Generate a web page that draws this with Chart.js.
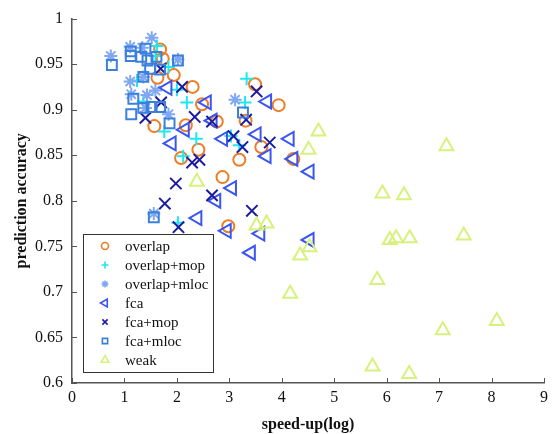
<!DOCTYPE html>
<html>
<head>
<meta charset="utf-8">
<script src="https://cdn.jsdelivr.net/npm/chart.js@4.4.0/dist/chart.umd.min.js"></script>
<style>
  html, body { margin: 0; padding: 0; background: #fff; }
  #wrap { width: 557px; height: 434px; position: relative; }
</style>
</head>
<body>
<div id="wrap"><canvas id="myChart" width="557" height="434"></canvas></div>
<script>
// series names (legend order)
const seriesNames = ["overlap", "overlap+mop", "overlap+mloc", "fca", "fca+mop", "fca+mloc", "weak"];

// x = speed-up(log), y = prediction accuracy
const overlapX = [1.68, 1.73, 1.63, 1.94, 2.30, 2.48, 1.57, 2.17, 2.76, 3.49, 3.94, 3.31, 2.41, 2.08, 3.19, 3.61, 2.87, 4.22, 2.98];
const overlapY = [0.966, 0.956, 0.935, 0.938, 0.925, 0.906, 0.882, 0.883, 0.887, 0.928, 0.905, 0.888, 0.856, 0.847, 0.845, 0.859, 0.826, 0.846, 0.772];

const overlapMopX = [1.62, 1.59, 1.84, 1.24, 2.00, 1.36, 2.19, 3.33, 3.30, 1.76, 2.37, 2.12, 3.03, 3.19, 2.02];
const overlapMopY = [0.970, 0.959, 0.947, 0.932, 0.922, 0.909, 0.908, 0.934, 0.908, 0.876, 0.868, 0.849, 0.871, 0.861, 0.776];

const overlapMlocX = [0.74, 1.11, 1.34, 1.52, 1.11, 1.13, 1.43, 1.59, 1.84, 3.11, 1.56, 2.02, 1.36, 1.40];
const overlapMlocY = [0.959, 0.969, 0.968, 0.979, 0.931, 0.917, 0.916, 0.921, 0.895, 0.911, 0.786, 0.955, 0.936, 0.902];

const fcaX = [1.82, 2.57, 2.15, 1.90, 2.68, 2.88, 3.52, 3.72, 4.15, 3.71, 4.22, 4.53, 3.05, 2.75, 2.39, 2.95, 3.59, 3.41, 4.53];
const fcaY = [0.924, 0.908, 0.878, 0.863, 0.888, 0.868, 0.873, 0.909, 0.868, 0.849, 0.846, 0.832, 0.814, 0.800, 0.781, 0.767, 0.764, 0.743, 0.757];

const fcaMopX = [1.69, 2.10, 3.52, 1.70, 1.40, 2.34, 2.67, 3.32, 3.08, 3.25, 3.77, 2.43, 2.29, 1.98, 2.67, 1.77, 3.43, 2.03];
const fcaMopY = [0.945, 0.925, 0.920, 0.908, 0.891, 0.892, 0.887, 0.889, 0.871, 0.859, 0.864, 0.845, 0.842, 0.819, 0.806, 0.797, 0.789, 0.771];

const fcaMlocX = [0.76, 1.12, 1.12, 1.40, 1.32, 1.44, 1.61, 1.49, 1.68, 2.02, 1.36, 1.17, 1.13, 1.36, 1.52, 1.68, 1.86, 3.26, 1.56];
const fcaMlocY = [0.949, 0.964, 0.959, 0.967, 0.958, 0.954, 0.958, 0.945, 0.944, 0.954, 0.936, 0.912, 0.895, 0.902, 0.903, 0.903, 0.885, 0.897, 0.782];

const weakX = [2.38, 3.52, 3.71, 4.70, 4.51, 7.14, 5.92, 6.33, 6.06, 6.18, 6.44, 7.47, 4.53, 4.35, 5.82, 4.16, 7.07, 8.10, 5.73, 6.43];
const weakY = [0.821, 0.773, 0.775, 0.876, 0.856, 0.860, 0.808, 0.806, 0.757, 0.759, 0.759, 0.762, 0.749, 0.740, 0.713, 0.698, 0.658, 0.668, 0.618, 0.610];

// axis ticks
const xTicks = [0, 1, 2, 3, 4, 5, 6, 7, 8, 9];
const yTicks = [0.6, 0.65, 0.7, 0.75, 0.8, 0.85, 0.9, 0.95, 1];

const toPoints = (xs, ys) => xs.map((x, i) => ({ x: x, y: ys[i] }));

const styles = [
  { color: "#ee7d25", pointStyle: "circle", radius: 6, rotation: 0 },
  { color: "#1ee8f0", pointStyle: "cross", radius: 6.5, rotation: 0 },
  { color: "#80a8f2", pointStyle: "star", radius: 6.5, rotation: 0 },
  { color: "#3b55f0", pointStyle: "triangle", radius: 8, rotation: -90 },
  { color: "#1c1ca0", pointStyle: "crossRot", radius: 8, rotation: 0 },
  { color: "#3a80dc", pointStyle: "rect", radius: 7, rotation: 0 },
  { color: "#d6f27c", pointStyle: "triangle", radius: 8, rotation: 0 }
];

const seriesData = [
  toPoints(overlapX, overlapY),
  toPoints(overlapMopX, overlapMopY),
  toPoints(overlapMlocX, overlapMlocY),
  toPoints(fcaX, fcaY),
  toPoints(fcaMopX, fcaMopY),
  toPoints(fcaMlocX, fcaMlocY),
  toPoints(weakX, weakY)
];

const datasets = seriesNames.map((name, i) => ({
  label: name,
  data: seriesData[i],
  borderColor: styles[i].color,
  backgroundColor: "rgba(0,0,0,0)",
  pointStyle: styles[i].pointStyle,
  pointRadius: styles[i].radius,
  pointRotation: styles[i].rotation,
  pointBorderWidth: 2,
  order: 6 - i
}));

// little marker painter for the legend box
function drawMarker(ctx, style, x, y, r) {
  ctx.save();
  ctx.strokeStyle = style.color;
  ctx.lineWidth = 1.6;
  ctx.beginPath();
  if (style.pointStyle === "circle") {
    ctx.arc(x, y, r, 0, Math.PI * 2);
  } else if (style.pointStyle === "cross") {
    ctx.moveTo(x - r, y); ctx.lineTo(x + r, y);
    ctx.moveTo(x, y - r); ctx.lineTo(x, y + r);
  } else if (style.pointStyle === "crossRot") {
    const d = r * 0.75;
    ctx.moveTo(x - d, y - d); ctx.lineTo(x + d, y + d);
    ctx.moveTo(x - d, y + d); ctx.lineTo(x + d, y - d);
  } else if (style.pointStyle === "star") {
    const d = r * 0.72;
    ctx.moveTo(x - r, y); ctx.lineTo(x + r, y);
    ctx.moveTo(x, y - r); ctx.lineTo(x, y + r);
    ctx.moveTo(x - d, y - d); ctx.lineTo(x + d, y + d);
    ctx.moveTo(x - d, y + d); ctx.lineTo(x + d, y - d);
  } else if (style.pointStyle === "rect") {
    const s = r * 0.75;
    ctx.rect(x - s, y - s, 2 * s, 2 * s);
  } else if (style.pointStyle === "triangle") {
    let a = style.rotation * Math.PI / 180;
    for (let k = 0; k < 3; k++) {
      const px = x + Math.sin(a) * r, py = y - Math.cos(a) * r;
      if (k === 0) ctx.moveTo(px, py); else ctx.lineTo(px, py);
      a += 2 * Math.PI / 3;
    }
    ctx.closePath();
  }
  ctx.stroke();
  ctx.restore();
}

const insideLegend = {
  id: "insideLegend",
  afterDraw(chart) {
    const ctx = chart.ctx;
    const area = chart.chartArea;
    const left = area.left + 11, top = 234, w = 130, h = 138;
    ctx.save();
    ctx.fillStyle = "#fff";
    ctx.fillRect(left, top, w, h);
    ctx.strokeStyle = "#333";
    ctx.lineWidth = 1;
    ctx.strokeRect(left + 0.5, top + 0.5, w, h);
    ctx.font = "15px 'Liberation Serif'";
    ctx.fillStyle = "#111";
    ctx.textBaseline = "middle";
    seriesNames.forEach((name, i) => {
      const y = top + 12 + i * 19;
      drawMarker(ctx, styles[i], left + 22, y, styles[i].pointStyle === "triangle" ? 4.5 : 3.5);
      ctx.fillText(name, left + 42, y + 1);
    });
    ctx.restore();
  }
};

// small inward tick marks on the two axes
const inwardTicks = {
  id: "inwardTicks",
  afterDatasetsDraw(chart) {
    const ctx = chart.ctx;
    const xs = chart.scales.x, ys = chart.scales.y;
    ctx.save();
    ctx.strokeStyle = "#555";
    ctx.lineWidth = 1;
    ctx.beginPath();
    xTicks.forEach(v => {
      const px = Math.round(xs.getPixelForValue(v)) + 0.5;
      ctx.moveTo(px, ys.bottom); ctx.lineTo(px, ys.bottom - 5);
    });
    yTicks.forEach(v => {
      const py = Math.round(ys.getPixelForValue(v)) + 0.5;
      ctx.moveTo(xs.left, py); ctx.lineTo(xs.left + 5, py);
    });
    ctx.stroke();
    ctx.restore();
  }
};

const ctx = document.getElementById("myChart").getContext("2d");
window.myChart = new Chart(ctx, {
  type: "scatter",
  data: { datasets: datasets },
  options: {
    responsive: false,
    animation: false,
    layout: { padding: { top: 10, right: 13, left: 0, bottom: 0 } },
    scales: {
      x: {
        type: "linear",
        min: 0,
        max: 9,
        afterBuildTicks(s) { s.ticks = xTicks.map(v => ({ value: v })); },
        afterFit(s) { s.height = 51; },
        grid: { display: false, drawTicks: false },
        border: { display: true, color: "#555", width: 1.5 },
        ticks: { color: "#111", padding: 5, font: { family: "'Liberation Serif'", size: 16 } },
        title: {
          display: true,
          text: "speed-up(log)",
          color: "#111",
          padding: { top: 0, bottom: 0 },
          font: { family: "'Liberation Serif'", size: 16, weight: "bold" }
        }
      },
      y: {
        type: "linear",
        min: 0.6,
        max: 1,
        afterBuildTicks(s) { s.ticks = yTicks.map(v => ({ value: v })); },
        afterFit(s) { s.width = 72; },
        grid: { display: false, drawTicks: false },
        border: { display: true, color: "#555", width: 1.5 },
        ticks: {
          color: "#111",
          padding: 9,
          font: { family: "'Liberation Serif'", size: 16 },
          callback: v => String(+v.toFixed(2))
        },
        title: {
          display: true,
          text: "prediction accuracy",
          color: "#111",
          padding: { top: 12, bottom: 0 },
          font: { family: "'Liberation Serif'", size: 16, weight: "bold" }
        }
      }
    },
    plugins: {
      legend: { display: false },
      tooltip: { enabled: false }
    }
  },
  plugins: [inwardTicks, insideLegend]
});
</script>
</body>
</html>
